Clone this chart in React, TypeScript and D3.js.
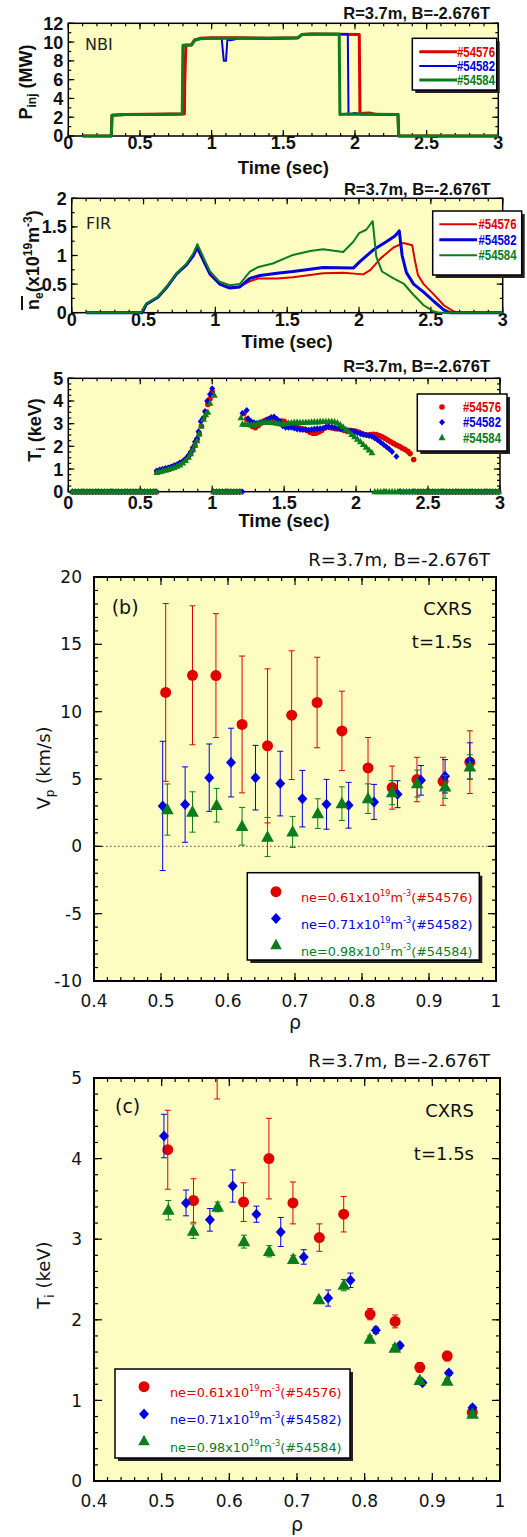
import React from "react";
import * as d3 from "d3";

type P = [number, number];
type E = [number, number, number];

// ---------------- data ----------------
const shots = ["#54576", "#54582", "#54584"];
const neAvg = ["0.61", "0.71", "0.98"];
const conditions = "R=3.7m, B=-2.676T";
const colors = ["#e00000", "#0000e0", "#0a7d1e"];

const timeTicks = [0, 0.5, 1, 1.5, 2, 2.5, 3];
const pinjTicks = [0, 2, 4, 6, 8, 10, 12];
const neTicks = [0, 0.5, 1, 1.5, 2];
const tiTraceTicks = [0, 1, 2, 3, 4, 5];
const rhoTicks = [0.4, 0.5, 0.6, 0.7, 0.8, 0.9, 1];
const vpTicks = [-10, -5, 0, 5, 10, 15, 20];
const tiTicks = [0, 1, 2, 3, 4, 5];

// NBI injected power (MW) vs time (s)
const pinj54576: P[] = [[0.1, 0], [0.3, 0], [0.305, 2.2], [0.4, 2.3], [0.7, 2.35], [0.81, 2.35], [0.812, 5.4], [0.82, 9.7], [0.86, 9.7], [0.88, 10.2], [0.92, 10.4], [1.0, 10.45], [1.2, 10.45], [1.4, 10.4], [1.6, 10.45], [1.63, 10.8], [1.7, 10.85], [2.03, 10.8], [2.035, 2.4], [2.1, 2.45], [2.15, 2.3], [2.3, 2.3], [2.305, 0], [3.0, 0]];
const pinj54582: P[] = [[0.1, 0], [0.3, 0], [0.305, 2.2], [0.4, 2.3], [0.7, 2.3], [0.795, 2.35], [0.8, 9.65], [0.86, 9.7], [0.88, 10.2], [0.92, 10.35], [1.07, 10.4], [1.085, 8.0], [1.1, 8.0], [1.11, 10.3], [1.13, 10.2], [1.2, 10.4], [1.4, 10.35], [1.6, 10.4], [1.63, 10.8], [1.7, 10.85], [1.95, 10.85], [1.955, 2.3], [2.0, 2.45], [2.05, 2.3], [2.3, 2.3], [2.305, 0], [3.0, 0]];
const pinj54584: P[] = [[0.1, 0], [0.3, 0], [0.305, 2.2], [0.4, 2.3], [0.6, 2.3], [0.795, 2.35], [0.8, 9.65], [0.86, 9.7], [0.88, 10.2], [0.92, 10.35], [1.0, 10.4], [1.2, 10.4], [1.4, 10.4], [1.6, 10.45], [1.63, 10.8], [1.7, 10.85], [1.89, 10.85], [1.895, 2.3], [1.95, 2.35], [2.3, 2.3], [2.305, 0], [3.0, 0]];

// line-averaged density (1e19 m^-3) vs time (s)
const ne54576: P[] = [[0.1, 0], [0.49, 0], [0.52, 0.15], [0.56, 0.21], [0.6, 0.27], [0.66, 0.44], [0.73, 0.68], [0.8, 0.84], [0.847, 1.0], [0.87, 1.13], [0.92, 0.88], [0.963, 0.66], [1.03, 0.5], [1.1, 0.44], [1.17, 0.46], [1.24, 0.55], [1.3, 0.6], [1.43, 0.6], [1.54, 0.62], [1.66, 0.66], [1.75, 0.69], [1.89, 0.7], [2.03, 0.67], [2.08, 0.75], [2.15, 0.95], [2.24, 1.14], [2.31, 1.22], [2.37, 1.18], [2.39, 0.9], [2.41, 0.66], [2.45, 0.5], [2.52, 0.32], [2.59, 0.13], [2.66, 0.02], [2.7, 0], [3.0, 0]];
const ne54582: P[] = [[0.1, 0], [0.49, 0], [0.52, 0.15], [0.56, 0.21], [0.6, 0.27], [0.66, 0.44], [0.73, 0.68], [0.8, 0.84], [0.847, 1.0], [0.875, 1.15], [0.92, 0.9], [0.963, 0.68], [1.03, 0.5], [1.1, 0.43], [1.17, 0.45], [1.24, 0.6], [1.31, 0.65], [1.43, 0.69], [1.54, 0.72], [1.66, 0.76], [1.75, 0.79], [1.96, 0.78], [2.0, 0.88], [2.1, 1.1], [2.19, 1.24], [2.25, 1.34], [2.28, 1.43], [2.3, 1.0], [2.33, 0.7], [2.38, 0.5], [2.45, 0.36], [2.52, 0.2], [2.59, 0.05], [2.63, 0], [3.0, 0]];
const ne54584: P[] = [[0.1, 0], [0.48, 0], [0.5, 0.08], [0.52, 0.16], [0.56, 0.22], [0.6, 0.28], [0.66, 0.45], [0.7, 0.58], [0.73, 0.69], [0.8, 0.86], [0.847, 1.04], [0.875, 1.2], [0.92, 0.95], [0.963, 0.72], [1.03, 0.54], [1.1, 0.48], [1.17, 0.5], [1.24, 0.72], [1.3, 0.8], [1.4, 0.86], [1.54, 1.01], [1.66, 1.08], [1.75, 1.11], [1.89, 1.06], [1.96, 1.24], [2.0, 1.39], [2.05, 1.45], [2.095, 1.6], [2.12, 0.98], [2.16, 0.72], [2.24, 0.6], [2.31, 0.51], [2.38, 0.31], [2.45, 0.13], [2.52, 0.02], [2.56, 0], [3.0, 0]];

// ion temperature (keV) vs time (s)
const tiOffEarly = [0.03, 0.05, 0.07, 0.09, 0.11, 0.13, 0.15, 0.17, 0.19, 0.21, 0.23, 0.25, 0.27, 0.29, 0.31, 0.33, 0.35, 0.37, 0.39, 0.41, 0.43, 0.45, 0.47, 0.49, 0.51, 0.53, 0.55, 0.57, 0.59, 0.61];
const tiOffMid = [1.01, 1.03, 1.05, 1.07, 1.09, 1.11, 1.13, 1.15, 1.17, 1.19, 1.21];
const tiOffLate = [2.13, 2.15, 2.17, 2.19, 2.21, 2.23, 2.25, 2.27, 2.29, 2.31, 2.33, 2.35, 2.37, 2.39, 2.41, 2.43, 2.45, 2.47, 2.49, 2.51, 2.53, 2.55, 2.57, 2.59, 2.61, 2.63, 2.65, 2.67, 2.69, 2.71, 2.73, 2.75, 2.77, 2.79, 2.81, 2.83, 2.85, 2.87, 2.89, 2.91, 2.93, 2.95, 2.97, 2.99];
const ti54576: P[] = [[0.615, 0.9], [0.635, 0.93], [0.655, 0.97], [0.675, 1.0], [0.695, 1.03], [0.715, 1.08], [0.735, 1.12], [0.755, 1.18], [0.775, 1.25], [0.795, 1.32], [0.815, 1.42], [0.835, 1.55], [0.85, 1.68], [0.865, 1.85], [0.88, 2.05], [0.895, 2.3], [0.91, 2.55], [0.925, 2.9], [0.94, 3.25], [0.955, 3.5], [0.97, 3.85], [0.985, 4.1], [1.0, 4.4],
  [1.22, 3.45], [1.24, 3.2], [1.26, 3.1], [1.28, 2.88], [1.3, 2.82], [1.32, 2.92], [1.34, 3.05], [1.36, 3.12], [1.38, 3.18], [1.4, 3.2], [1.42, 3.14], [1.44, 3.1], [1.46, 3.1], [1.48, 3.12], [1.5, 3.1], [1.52, 3.0], [1.54, 2.94], [1.56, 2.9], [1.58, 2.85], [1.6, 2.82], [1.62, 2.78], [1.64, 2.75], [1.66, 2.7], [1.68, 2.62], [1.7, 2.58], [1.72, 2.58], [1.74, 2.63], [1.76, 2.7], [1.78, 2.8], [1.8, 2.85], [1.82, 2.82], [1.84, 2.8], [1.86, 2.78], [1.88, 2.78], [1.9, 2.74], [1.92, 2.7], [1.94, 2.7], [1.96, 2.7], [1.98, 2.68], [2.0, 2.66], [2.02, 2.62], [2.04, 2.56], [2.06, 2.52], [2.08, 2.5], [2.1, 2.52], [2.12, 2.53], [2.14, 2.52], [2.16, 2.48], [2.18, 2.42], [2.2, 2.36], [2.22, 2.28], [2.24, 2.2], [2.26, 2.13], [2.28, 2.06], [2.3, 2.0], [2.32, 1.93], [2.34, 1.86], [2.36, 1.78], [2.375, 1.68], [2.4, 1.42]];
const ti54582: P[] = [[0.615, 0.92], [0.635, 0.97], [0.655, 1.0], [0.675, 1.03], [0.695, 1.05], [0.715, 1.1], [0.735, 1.15], [0.755, 1.2], [0.775, 1.27], [0.795, 1.33], [0.815, 1.45], [0.835, 1.6], [0.85, 1.75], [0.865, 1.95], [0.88, 2.2], [0.895, 2.35], [0.905, 2.65], [0.92, 3.1], [0.935, 3.2], [0.95, 3.55], [0.965, 4.0], [0.985, 4.3], [1.0, 4.55],
  [1.21, 3.46], [1.24, 3.59], [1.25, 3.22], [1.27, 3.1], [1.29, 3.05], [1.31, 3.02], [1.33, 3.05], [1.35, 3.08], [1.37, 3.12], [1.39, 3.2], [1.41, 3.28], [1.43, 3.3], [1.45, 3.2], [1.47, 3.1], [1.49, 2.9], [1.51, 2.83], [1.53, 2.83], [1.55, 2.83], [1.57, 2.8], [1.59, 2.76], [1.61, 2.75], [1.63, 2.73], [1.65, 2.74], [1.67, 2.72], [1.69, 2.74], [1.71, 2.76], [1.73, 2.78], [1.75, 2.78], [1.77, 2.8], [1.79, 2.85], [1.81, 2.87], [1.83, 2.85], [1.85, 2.82], [1.87, 2.8], [1.89, 2.78], [1.91, 2.75], [1.93, 2.72], [1.95, 2.7], [1.97, 2.67], [1.99, 2.64], [2.01, 2.6], [2.03, 2.56], [2.05, 2.52], [2.07, 2.5], [2.09, 2.47], [2.11, 2.44], [2.13, 2.36], [2.15, 2.28], [2.17, 2.18], [2.19, 2.08], [2.21, 1.98], [2.23, 1.88], [2.25, 1.76], [2.28, 1.55]];
const ti54584: P[] = [[0.615, 0.85], [0.635, 0.88], [0.655, 0.92], [0.675, 0.95], [0.695, 0.98], [0.715, 1.02], [0.735, 1.07], [0.755, 1.12], [0.775, 1.18], [0.795, 1.27], [0.815, 1.38], [0.835, 1.52], [0.85, 1.68], [0.865, 1.85], [0.88, 2.05], [0.895, 2.25], [0.91, 2.55], [0.925, 2.9], [0.94, 3.2], [0.955, 3.4], [0.97, 3.5], [0.985, 3.9], [1.015, 4.25],
  [1.2, 3.26], [1.21, 2.98], [1.23, 2.98], [1.25, 2.96], [1.27, 2.94], [1.29, 2.97], [1.31, 3.0], [1.33, 3.02], [1.35, 3.05], [1.37, 3.06], [1.39, 3.06], [1.41, 3.05], [1.43, 3.04], [1.45, 3.02], [1.47, 3.0], [1.49, 2.98], [1.51, 3.0], [1.53, 3.02], [1.55, 3.04], [1.57, 3.06], [1.59, 3.06], [1.61, 3.05], [1.63, 3.05], [1.65, 3.06], [1.67, 3.06], [1.69, 3.07], [1.71, 3.08], [1.73, 3.08], [1.75, 3.09], [1.77, 3.1], [1.79, 3.1], [1.81, 3.1], [1.83, 3.1], [1.85, 3.08], [1.87, 3.04], [1.89, 2.95], [1.91, 2.85], [1.93, 2.74], [1.95, 2.64], [1.97, 2.52], [1.99, 2.42], [2.01, 2.32], [2.03, 2.2], [2.05, 2.08], [2.07, 1.96], [2.09, 1.84], [2.11, 1.72]];
// end of each shot's Ti measurement (zeros are plotted after it)
const tiLastTime = [2.42, 2.3, 2.12];
const tiMidEnd = [1.2, 1.22, 1.19];

// poloidal rotation Vp (km/s) at t=1.5s: [rho, value, error]
const vp54576: E[] = [[0.507, 11.43, 6.6], [0.547, 12.7, 5.16], [0.582, 12.68, 4.6], [0.621, 9.05, 5.08], [0.659, 7.46, 5.72], [0.695, 9.74, 4.78], [0.733, 10.68, 3.36], [0.77, 8.57, 2.95], [0.809, 5.82, 2.26], [0.845, 4.36, 1.6], [0.882, 4.96, 1.65], [0.921, 4.83, 1.78], [0.961, 6.25, 2.33]];
const vp54582: E[] = [[0.5025, 3.0, 4.8], [0.536, 3.1, 2.8], [0.572, 5.1, 2.5], [0.6045, 6.22, 2.55], [0.641, 5.1, 2.4], [0.678, 4.66, 2.4], [0.711, 3.54, 2.1], [0.747, 3.12, 1.85], [0.78, 3.05, 1.7], [0.818, 3.3, 1.3], [0.853, 3.87, 1.0], [0.888, 4.9, 1.1], [0.924, 5.2, 1.24], [0.961, 6.34, 1.35]];
const vp54584: E[] = [[0.5095, 2.73, 1.9], [0.547, 2.55, 1.5], [0.583, 3.05, 1.25], [0.621, 1.49, 1.4], [0.659, 0.69, 1.45], [0.6965, 1.07, 1.15], [0.734, 2.43, 1.1], [0.77, 3.17, 1.25], [0.809, 3.54, 1.1], [0.845, 3.99, 0.9], [0.8825, 4.66, 1.0], [0.924, 4.41, 0.85], [0.961, 5.9, 0.9]];

// ion temperature profile Ti (keV) at t=1.5s: [rho, value, error]
const tip54576: E[] = [[0.509, 4.11, 0.49], [0.547, 3.48, 0.27], [0.582, 5.2, 0.46], [0.621, 3.46, 0.24], [0.6585, 4.0, 0.5], [0.694, 3.45, 0.26], [0.733, 3.02, 0.17], [0.769, 3.31, 0.22], [0.808, 2.07, 0.07], [0.845, 1.98, 0.08], [0.8815, 1.41, 0.06], [0.922, 1.55, 0.06], [0.959, 0.85, 0.03]];
const tip54582: E[] = [[0.5034, 4.28, 0.27], [0.536, 3.45, 0.16], [0.5713, 3.24, 0.14], [0.605, 3.66, 0.2], [0.64, 3.31, 0.1], [0.676, 3.09, 0.18], [0.71, 2.78, 0.09], [0.746, 2.27, 0.1], [0.779, 2.49, 0.09], [0.8166, 1.87, 0.04], [0.852, 1.68, 0.03], [0.8855, 1.22, 0.03], [0.9244, 1.34, 0.03], [0.9594, 0.91, 0.03]];
const tip54584: E[] = [[0.5098, 3.36, 0.12], [0.5467, 3.1, 0.09], [0.5827, 3.4, 0.06], [0.6216, 2.97, 0.08], [0.659, 2.85, 0.07], [0.6944, 2.75, 0.05], [0.7324, 2.25, 0.03], [0.7693, 2.43, 0.07], [0.8077, 1.76, 0.04], [0.8446, 1.65, 0.04], [0.8815, 1.25, 0.03], [0.922, 1.24, 0.03], [0.9594, 0.83, 0.03]];

// ---------------- style ----------------
const BG = "#fdfdc2";
const FB = "'Liberation Sans', Arial, sans-serif";
const FR = "'DejaVu Sans', Verdana, sans-serif";

type Lin = d3.ScaleLinear<number, number>;

function Axes(p: {
  x: Lin; y: Lin; xMajor: number[]; xMinor: number[]; yMajor: number[]; yMinor: number[];
  maj: number; min: number; sw: number; font: string; fs: number; fw: string | number;
  xDy: number; yDx: number;
}) {
  const [l, r] = p.x.range();
  const [b, t] = p.y.range();
  const vTick = (v: number, len: number, k: string) => (
    <g key={k}>
      <line x1={p.x(v)} x2={p.x(v)} y1={b} y2={b - len} />
      <line x1={p.x(v)} x2={p.x(v)} y1={t} y2={t + len} />
    </g>
  );
  const hTick = (v: number, len: number, k: string) => (
    <g key={k}>
      <line x1={l} x2={l + len} y1={p.y(v)} y2={p.y(v)} />
      <line x1={r} x2={r - len} y1={p.y(v)} y2={p.y(v)} />
    </g>
  );
  return (
    <g>
      <g stroke="#000" strokeWidth={1.2}>
        {p.xMinor.map((v, i) => vTick(v, p.min, "xm" + i))}
        {p.xMajor.map((v, i) => vTick(v, p.maj, "xM" + i))}
        {p.yMinor.map((v, i) => hTick(v, p.min, "ym" + i))}
        {p.yMajor.map((v, i) => hTick(v, p.maj, "yM" + i))}
      </g>
      <rect x={l} y={t} width={r - l} height={b - t} fill="none" stroke="#000" strokeWidth={p.sw} />
      <g fontFamily={p.font} fontSize={p.fs} fontWeight={p.fw} fill="#111">
        {p.xMajor.map((v, i) => (
          <text key={"xl" + i} x={p.x(v)} y={b + p.xDy} textAnchor="middle">{String(v)}</text>
        ))}
        {p.yMajor.map((v, i) => (
          <text key={"yl" + i} x={l - p.yDx} y={p.y(v) + p.fs * 0.36} textAnchor="end">{String(v)}</text>
        ))}
      </g>
    </g>
  );
}

function Marker({ kind, cx, cy, s, fill }: { kind: number; cx: number; cy: number; s: number; fill: string }) {
  if (kind === 0) return <circle cx={cx} cy={cy} r={s} fill={fill} />;
  if (kind === 1)
    return <path d={`M${cx},${cy - s * 1.1}L${cx + s},${cy}L${cx},${cy + s * 1.1}L${cx - s},${cy}Z`} fill={fill} />;
  return <path d={`M${cx},${cy - s * 1.25}L${cx + s * 1.15},${cy + s * 0.85}L${cx - s * 1.15},${cy + s * 0.85}Z`} fill={fill} />;
}

function Title({ x, y, fs, font, fw }: { x: number; y: number; fs: number; font: string; fw: string | number }) {
  return (
    <text x={x} y={y} textAnchor="end" fontFamily={font} fontSize={fs} fontWeight={fw} fill="#111">
      {conditions}
    </text>
  );
}

// narrow bold shot label, squeezed to the width of the original condensed face
function ShotText({ x, y, s, fill }: { x: number; y: number; s: string; fill: string }) {
  return (
    <text x={x - 38} y={y} textLength={38} lengthAdjust="spacingAndGlyphs" fontFamily={FB} fontSize={14} fontWeight="bold" fill={fill}>
      {s}
    </text>
  );
}

function minorTicks(lo: number, hi: number, step: number) {
  return d3.range(lo, hi + step / 2, step);
}

// ---------------- panels ----------------
function PinjPanel() {
  const x = d3.scaleLinear().domain([0, 3]).range([68.3, 498.3]);
  const y = d3.scaleLinear().domain([0, 12]).range([136, 23.3]);
  const line = d3.line<P>().x((d) => x(d[0])).y((d) => y(d[1]));
  const series = [pinj54576, pinj54582, pinj54584];
  const widths = [3, 2, 3];
  return (
    <g>
      <rect x={68.3} y={23.3} width={430} height={112.7} fill={BG} />
      <Axes x={x} y={y} xMajor={timeTicks} xMinor={minorTicks(0, 3, 0.1)} yMajor={pinjTicks} yMinor={minorTicks(0, 12, 1)}
        maj={6} min={3} sw={1.5} font={FB} fs={18} fw="bold" xDy={13} yDx={5} />
      {series.map((s, i) => (
        <path key={i} d={line(s) || ""} fill="none" stroke={colors[i]} strokeWidth={widths[i]} strokeLinejoin="round" />
      ))}
      <Title x={490} y={18.5} fs={16.5} font={FB} fw="bold" />
      <text x={85} y={50} fontFamily={FR} fontSize={16} fill="#222">NBI</text>
      <text transform="translate(32,82) rotate(-90)" textAnchor="middle" fontFamily={FB} fontSize={18} fontWeight="bold" fill="#111">
        P<tspan dy={4} fontSize={12}>inj</tspan><tspan dy={-4}> (MW)</tspan>
      </text>
      <text x={283.3} y={174} textAnchor="middle" fontFamily={FB} fontSize={18.5} fontWeight="bold" fill="#111">Time (sec)</text>
      <g>
        <rect x={415.3} y={41.3} width={84.4} height={51.7} fill="#222" />
        <rect x={412.3} y={38.3} width={84.4} height={51.7} fill="#fff" stroke="#000" strokeWidth={1.5} />
        {shots.map((s, i) => (
          <g key={s}>
            <line x1={419.3} x2={457} y1={51.7 + i * 14.2} y2={51.7 + i * 14.2} stroke={colors[i]} strokeWidth={widths[i]} />
            <ShotText x={495} y={56.7 + i * 14.2} s={s} fill={colors[i]} />
          </g>
        ))}
      </g>
    </g>
  );
}

function NePanel() {
  const x = d3.scaleLinear().domain([0, 3]).range([71.7, 502.7]);
  const y = d3.scaleLinear().domain([0, 2]).range([312.7, 198.3]);
  const line = d3.line<P>().x((d) => x(d[0])).y((d) => y(d[1]));
  const series = [ne54576, ne54582, ne54584];
  const widths = [2, 3, 2];
  return (
    <g>
      <rect x={71.7} y={198.3} width={431} height={114.4} fill={BG} />
      <Axes x={x} y={y} xMajor={timeTicks} xMinor={minorTicks(0, 3, 0.1)} yMajor={neTicks} yMinor={minorTicks(0, 2, 0.25)}
        maj={6} min={3} sw={1.5} font={FB} fs={18} fw="bold" xDy={13} yDx={5} />
      {series.map((s, i) => (
        <path key={i} d={line(s) || ""} fill="none" stroke={colors[i]} strokeWidth={widths[i]} strokeLinejoin="round" />
      ))}
      <Title x={490.7} y={195} fs={16.5} font={FB} fw="bold" />
      <text x={86} y={229} fontFamily={FR} fontSize={16} fill="#222">FIR</text>
      <g transform="translate(39,310) rotate(-90)" fontFamily={FB} fontSize={18} fontWeight="bold" fill="#111">
        <text x={0} y={0}>
          n<tspan dy={4} fontSize={12}>e</tspan><tspan dy={-4}>(x10</tspan><tspan dy={-7} fontSize={12}>19</tspan>
          <tspan dy={7}>m</tspan><tspan dy={-7} fontSize={12}>-3</tspan><tspan dy={7}>)</tspan>
        </text>
        <line x1={0} x2={14} y1={-17} y2={-17} stroke="#111" strokeWidth={2} />
      </g>
      <text x={287.2} y={348} textAnchor="middle" fontFamily={FB} fontSize={18.5} fontWeight="bold" fill="#111">Time (sec)</text>
      <g>
        <rect x={435.7} y={214} width={89} height={64} fill="#222" />
        <rect x={432.7} y={211} width={89} height={64} fill="#fff" stroke="#000" strokeWidth={1.5} />
        {shots.map((s, i) => (
          <g key={s}>
            <line x1={439.3} x2={477} y1={224.3 + i * 15.5} y2={224.3 + i * 15.5} stroke={colors[i]} strokeWidth={widths[i]} />
            <ShotText x={516.5} y={229.3 + i * 15.5} s={s} fill={colors[i]} />
          </g>
        ))}
      </g>
    </g>
  );
}

function TiTracePanel() {
  const x = d3.scaleLinear().domain([0, 3]).range([68.3, 500]);
  const y = d3.scaleLinear().domain([0, 5]).range([491.7, 378.3]);
  const series = [ti54576, ti54582, ti54584];
  const pts = series.map((s, i) => {
    const zeros: P[] = [
      ...tiOffEarly.map((t) => [t, 0] as P),
      ...tiOffMid.filter((t) => t <= tiMidEnd[i]).map((t) => [t, 0] as P),
      ...tiOffLate.filter((t) => t > tiLastTime[i]).map((t) => [t, 0] as P),
    ];
    return [...zeros, ...s];
  });
  const sizes = [2.8, 3, 3];
  return (
    <g>
      <rect x={68.3} y={378.3} width={431.7} height={113.4} fill={BG} />
      <Axes x={x} y={y} xMajor={timeTicks} xMinor={minorTicks(0, 3, 0.1)} yMajor={tiTraceTicks} yMinor={minorTicks(0, 5, 0.25)}
        maj={6} min={3} sw={1.5} font={FB} fs={18} fw="bold" xDy={17} yDx={5} />
      {pts.map((s, i) => (
        <g key={i}>
          {s.map((d, j) => <Marker key={j} kind={i} cx={x(d[0])} cy={y(d[1])} s={sizes[i]} fill={colors[i]} />)}
        </g>
      ))}
      <Title x={490} y={372} fs={16.5} font={FB} fw="bold" />
      <text transform="translate(41,430) rotate(-90)" textAnchor="middle" fontFamily={FB} fontSize={18} fontWeight="bold" fill="#111">
        T<tspan dy={4} fontSize={12}>i</tspan><tspan dy={-4}> (keV)</tspan>
      </text>
      <text x={284} y={527} textAnchor="middle" fontFamily={FB} fontSize={18.5} fontWeight="bold" fill="#111">Time (sec)</text>
      <g>
        <rect x={420.3} y={397} width={89.7} height={57} fill="#222" />
        <rect x={417.3} y={394} width={89.7} height={57} fill="#fff" stroke="#000" strokeWidth={1.5} />
        {shots.map((s, i) => (
          <g key={s}>
            <Marker kind={i} cx={442} cy={407 + i * 15.3} s={sizes[i]} fill={colors[i]} />
            <ShotText x={501} y={412 + i * 15.3} s={s} fill={colors[i]} />
          </g>
        ))}
      </g>
    </g>
  );
}

function ProfileLegend({ x0, y0, w, h, mx, tx, row0, step }: { x0: number; y0: number; w: number; h: number; mx: number; tx: number; row0: number; step: number }) {
  return (
    <g>
      <rect x={x0 + 3} y={y0 + 3} width={w} height={h} fill="#222" />
      <rect x={x0} y={y0} width={w} height={h} fill="#fff" stroke="#000" strokeWidth={1.5} />
      {shots.map((s, i) => (
        <g key={s}>
          <Marker kind={i} cx={mx} cy={row0 + i * step} s={i === 0 ? 5.5 : 5} fill={colors[i]} />
          <text x={tx} y={row0 + i * step + 10.5} fontFamily={FR} fontSize={12.8} fill={colors[i]}>
            ne={neAvg[i]}x10<tspan dy={-6} fontSize={8.2}>19</tspan><tspan dy={6}>m</tspan>
            <tspan dy={-6} fontSize={8.2}>-3</tspan><tspan dy={6}>({s})</tspan>
          </text>
        </g>
      ))}
    </g>
  );
}

function ProfilePanel(p: {
  id: string; top: number; bottom: number; right: number; domain: [number, number]; yTicks: number[]; yMinorStep: number;
  series: E[][]; tag: string; titleY: number; tagY: number; cxrsY: number; tY: number; tagX: number; cxrsX: number;
  yLabel: React.ReactNode; yLabelY: number; rhoY: number; zeroLine?: boolean; legend: React.ReactNode;
}) {
  const left = 94;
  const x = d3.scaleLinear().domain([0.4, 1]).range([left, p.right]);
  const y = d3.scaleLinear().domain(p.domain).range([p.bottom, p.top]);
  const sizes = [5.5, 5, 5.5];
  return (
    <g>
      <defs>
        <clipPath id={p.id}>
          <rect x={left} y={p.top} width={p.right - left} height={p.bottom - p.top} />
        </clipPath>
      </defs>
      <rect x={left} y={p.top} width={p.right - left} height={p.bottom - p.top} fill={BG} />
      {p.zeroLine && (
        <line x1={left} x2={p.right} y1={y(0)} y2={y(0)} stroke="#666" strokeWidth={1.2} strokeDasharray="1.5,2.5" />
      )}
      <g clipPath={`url(#${p.id})`}>
        {p.series.map((s, i) => (
          <g key={i}>
            {s.map((d, j) => (
              <g key={j} stroke={colors[i]} strokeWidth={1}>
                <line x1={x(d[0])} x2={x(d[0])} y1={y(d[1] - d[2])} y2={y(d[1] + d[2])} />
                <line x1={x(d[0]) - 3} x2={x(d[0]) + 3} y1={y(d[1] - d[2])} y2={y(d[1] - d[2])} />
                <line x1={x(d[0]) - 3} x2={x(d[0]) + 3} y1={y(d[1] + d[2])} y2={y(d[1] + d[2])} />
              </g>
            ))}
            {s.map((d, j) => (
              <Marker key={"m" + j} kind={i} cx={x(d[0])} cy={y(d[1])} s={sizes[i]} fill={colors[i]} />
            ))}
          </g>
        ))}
      </g>
      <Axes x={x} y={y} xMajor={rhoTicks} xMinor={minorTicks(0.4, 1, 0.02)} yMajor={p.yTicks}
        yMinor={minorTicks(p.domain[0], p.domain[1], p.yMinorStep)}
        maj={8} min={4} sw={2} font={FR} fs={17} fw="normal" xDy={26} yDx={12} />
      <Title x={490} y={p.titleY} fs={18} font={FR} fw="normal" />
      <text x={p.tagX} y={p.tagY} fontFamily={FR} fontSize={19} fill="#111">{p.tag}</text>
      <text x={p.cxrsX} y={p.cxrsY} textAnchor="end" fontFamily={FR} fontSize={18} fill="#111">CXRS</text>
      <text x={p.cxrsX} y={p.tY} textAnchor="end" fontFamily={FR} fontSize={18} fill="#111">t=1.5s</text>
      <text transform={`translate(50,${p.yLabelY}) rotate(-90)`} textAnchor="middle" fontFamily={FR} fontSize={18} fill="#111">
        {p.yLabel}
      </text>
      <text x={(left + p.right) / 2} y={p.rhoY} textAnchor="middle" fontFamily={FR} fontSize={19} fill="#111">ρ</text>
      {p.legend}
    </g>
  );
}

export default function App() {
  return (
    <svg width={527} height={1537} viewBox="0 0 527 1537" style={{ position: "absolute", left: 0, top: 0 }}>
      <rect width={527} height={1537} fill="#fff" />
      <PinjPanel />
      <NePanel />
      <TiTracePanel />
      <ProfilePanel id="clipB" top={577} bottom={981} right={496} domain={[-10, 20]} yTicks={vpTicks} yMinorStep={1}
        series={[vp54576, vp54582, vp54584]} tag="(b)" titleY={566} tagY={614} cxrsY={615} tY={648} tagX={111.7} cxrsX={472}
        yLabel={<>V<tspan dy={4} fontSize={12}>p</tspan><tspan dy={-4}> (km/s)</tspan></>} yLabelY={768} rhoY={1029} zeroLine
        legend={<ProfileLegend x0={247.3} y0={872.7} w={232} h={87.3} mx={276} tx={301} row0={891.7} step={26.7} />} />
      <ProfilePanel id="clipC" top={1078} bottom={1481} right={500} domain={[0, 5]} yTicks={tiTicks} yMinorStep={0.2}
        series={[tip54576, tip54582, tip54584]} tag="(c)" titleY={1067} tagY={1113} cxrsY={1117} tY={1160} tagX={115} cxrsX={474}
        yLabel={<>T<tspan dy={4} fontSize={12}>i</tspan><tspan dy={-4}> (keV)</tspan></>} yLabelY={1275} rhoY={1531}
        legend={<ProfileLegend x0={115} y0={1369} w={235} h={89} mx={144} tx={170} row0={1386.7} step={27.2} />} />
    </svg>
  );
}
